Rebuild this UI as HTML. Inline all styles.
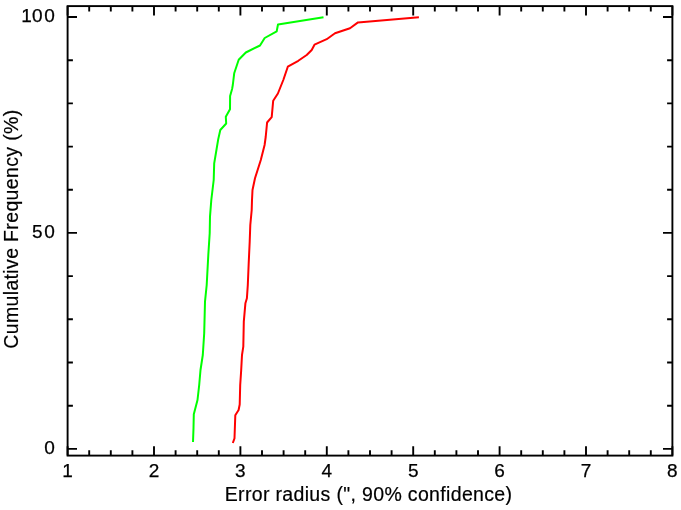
<!DOCTYPE html><html><head><meta charset="utf-8"><title>Cumulative Frequency</title>
<style>html,body{margin:0;padding:0;background:#fff;}svg{display:block;}text{font-family:"Liberation Sans",Arial,Helvetica,sans-serif;font-size:19px;fill:#000;stroke:#000;stroke-width:0.25px;}</style></head><body>
<svg width="681" height="510" viewBox="0 0 681 510">
<rect width="681" height="510" fill="#fff"/>
<g stroke="#000" stroke-width="1.9" fill="none" stroke-linecap="butt">
<rect x="67.6" y="6.1" width="604.8" height="449.5"/>
<path d="M67.6,455.6v-9.4M67.6,6.1v9.4M89.2,455.6v-5.4M89.2,6.1v5.4M110.8,455.6v-5.4M110.8,6.1v5.4M132.4,455.6v-5.4M132.4,6.1v5.4M154.0,455.6v-9.4M154.0,6.1v9.4M175.6,455.6v-5.4M175.6,6.1v5.4M197.2,455.6v-5.4M197.2,6.1v5.4M218.8,455.6v-5.4M218.8,6.1v5.4M240.4,455.6v-9.4M240.4,6.1v9.4M262.0,455.6v-5.4M262.0,6.1v5.4M283.6,455.6v-5.4M283.6,6.1v5.4M305.2,455.6v-5.4M305.2,6.1v5.4M326.8,455.6v-9.4M326.8,6.1v9.4M348.4,455.6v-5.4M348.4,6.1v5.4M370.0,455.6v-5.4M370.0,6.1v5.4M391.6,455.6v-5.4M391.6,6.1v5.4M413.2,455.6v-9.4M413.2,6.1v9.4M434.8,455.6v-5.4M434.8,6.1v5.4M456.4,455.6v-5.4M456.4,6.1v5.4M478.0,455.6v-5.4M478.0,6.1v5.4M499.6,455.6v-9.4M499.6,6.1v9.4M521.2,455.6v-5.4M521.2,6.1v5.4M542.8,455.6v-5.4M542.8,6.1v5.4M564.4,455.6v-5.4M564.4,6.1v5.4M586.0,455.6v-9.4M586.0,6.1v9.4M607.6,455.6v-5.4M607.6,6.1v5.4M629.2,455.6v-5.4M629.2,6.1v5.4M650.8,455.6v-5.4M650.8,6.1v5.4M672.4,455.6v-9.4M672.4,6.1v9.4M67.6,448.9h9.4M672.4,448.9h-9.4M67.6,405.7h5.3M672.4,405.7h-5.3M67.6,362.5h5.3M672.4,362.5h-5.3M67.6,319.3h5.3M672.4,319.3h-5.3M67.6,276.1h5.3M672.4,276.1h-5.3M67.6,232.9h9.4M672.4,232.9h-9.4M67.6,189.8h5.3M672.4,189.8h-5.3M67.6,146.6h5.3M672.4,146.6h-5.3M67.6,103.4h5.3M672.4,103.4h-5.3M67.6,60.2h5.3M672.4,60.2h-5.3M67.6,17.0h9.4M672.4,17.0h-9.4"/>
</g>
<polyline points="193.0,442.0 193.5,428.3 193.8,414.2 197.5,400.0 199.2,385.0 200.5,370.0 202.8,355.0 204.2,333.3 205.0,301.7 206.7,285.0 208.3,255.0 209.7,233.3 210.0,216.7 211.3,200.0 213.7,180.0 214.2,163.3 216.6,149.0 218.2,139.4 220.3,130.0 226.2,123.5 225.8,116.8 230.0,109.3 230.1,96.0 232.1,89.0 232.8,85.0 234.2,73.3 238.7,59.7 245.8,52.5 260.0,45.5 264.7,38.0 276.7,31.3 278.0,24.5 323.5,17.2" fill="none" stroke="#00ff00" stroke-width="2" stroke-linejoin="round"/>
<polyline points="232.8,443.0 234.5,438.3 235.3,415.2 238.6,410.0 239.7,404.5 240.2,385.0 241.2,370.0 242.0,355.0 243.3,346.7 243.8,321.7 245.4,303.3 246.9,298.3 247.8,285.0 248.7,263.3 249.7,241.7 250.3,225.0 251.7,210.0 252.0,200.0 252.5,190.0 255.0,178.3 260.8,160.0 264.6,145.0 265.7,137.0 267.1,122.5 271.7,117.2 273.2,100.7 277.9,93.5 283.3,80.0 287.8,66.7 298.3,60.8 306.7,55.0 311.7,50.0 314.5,44.7 326.7,39.2 335.0,33.3 350.0,28.2 358.0,22.4 418.9,17.2" fill="none" stroke="#ff0000" stroke-width="2" stroke-linejoin="round"/>
<text x="62.32" y="476.9">1</text>
<text x="148.72" y="476.9">2</text>
<text x="235.12" y="476.9">3</text>
<text x="321.52" y="476.9">4</text>
<text x="407.92" y="476.9">5</text>
<text x="494.32" y="476.9">6</text>
<text x="580.72" y="476.9">7</text>
<text x="667.12" y="476.9">8</text>
<text x="44.25" y="453.90" >0</text>
<text x="32.1 44.25" y="237.95" >50</text>
<text x="21.3 32.1 44.25" y="22.00" >100</text>
<text transform="translate(224.70,500.60)" style="font-size:19.5px;letter-spacing:0.34px;stroke-width:0.2px">Error radius (&quot;, 90% confidence)</text>
<text transform="translate(18.10,348.70) rotate(-90)" style="font-size:19.5px;letter-spacing:0.35px;stroke-width:0.2px">Cumulative Frequency (%)</text>
</svg></body></html>
